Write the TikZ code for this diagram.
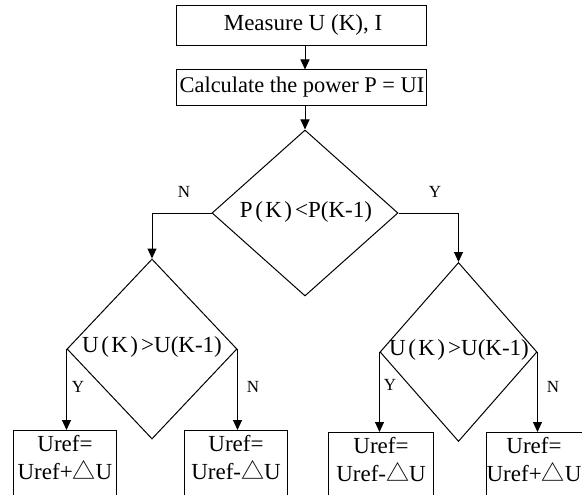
\documentclass[tikz,border=0pt]{standalone}
\usepackage{fontspec}
\setmainfont{Liberation Serif}
\newfontfamily\cjkf{Noto Sans CJK SC}
\usetikzlibrary{shapes.geometric,arrows.meta}
\newcommand{\tri}{{\cjkf △}}
\newcommand{\lpf}{\kern0.12em(\kern0.1em}
\newcommand{\rpf}{\kern0.1em)\kern0.14em}
\begin{document}
\begin{tikzpicture}[x=1pt,y=-1pt,
  line width=1pt,
  txt/.style={font=\fontsize{23}{28}\selectfont, inner sep=0pt, align=center},
  lbl/.style={font=\fontsize{17}{20}\selectfont, inner sep=0pt},
  rbox/.style={draw, rectangle, inner sep=0pt},
  dia/.style={draw, diamond, inner sep=0pt},
  arr/.style={-{Triangle[length=10pt,width=9pt]}}
]
\useasboundingbox (0,0) rectangle (582,495);
\clip (0,0) rectangle (582,495);
% top boxes
\node[rbox, minimum width=250pt, minimum height=40pt] (b1) at (301,26) {};
\node[txt] (t1) at (303,25) {Measure U (K), I};
\node[rbox, minimum width=250pt, minimum height=36pt] (b2) at (301,88) {};
\node[txt, font=\fontsize{22.4}{28}\selectfont] (t2) at (302,87) {Calculate the power P = UI};
% diamonds
\node[dia, minimum width=186pt, minimum height=166pt] (d1) at (305,213) {};
\node[txt] (dt1) at (306,212) {P\lpf K\rpf <P(K-1)};
\node[dia, minimum width=170pt, minimum height=180pt] (d2) at (152,349) {};
\node[txt] (dt2) at (152,347) {U\lpf K\rpf >U(K-1)};
\node[dia, minimum width=157pt, minimum height=179pt] (d3) at (458.5,352) {};
\node[txt] (dt3) at (459,350) {U\lpf K\rpf >U(K-1)};
% bottom boxes
\node[rbox, anchor=north, minimum width=103pt, minimum height=90pt] (bl1) at (64.5,430) {};
\node[txt, anchor=north] (tl1) at (65,435) {Uref=\\Uref+\tri U};
\node[rbox, anchor=north, minimum width=103pt, minimum height=90pt] (bl2) at (235.5,430) {};
\node[txt, anchor=north] (tl2) at (236,435) {Uref=\\Uref-\tri U};
\node[rbox, anchor=north, minimum width=105pt, minimum height=90pt] (br1) at (380.5,432) {};
\node[txt, anchor=north] (tr1) at (381,437) {Uref=\\Uref-\tri U};
\node[rbox, anchor=north, minimum width=105pt, minimum height=90pt] (br2) at (539,432) {};
\node[txt, anchor=north] (tr2) at (534,437) {Uref=\\Uref+\tri U};
% connectors
\coordinate (c1) at (305,46);
\draw[arr] (b1.south -| c1) -- (b2.north -| c1);
\draw[arr] (b2.south -| d1.north) -- (d1.north);
\draw[arr] (d1.west) -| (d2.north);
\draw[arr] (d1.east) -| (d3.north);
\draw[arr] (d2.west) -- (d2.west |- bl1.north);
\draw[arr] (d2.east) -- (d2.east |- bl2.north);
\draw[arr] (d3.west) -- (d3.west |- br1.north);
\draw[arr] (d3.east) -- (d3.east |- br2.north);
% labels
\node[lbl] (n1) at (184,192) {N};
\node[lbl] (y1) at (435,192) {Y};
\node[lbl] (y2) at (78,387) {Y};
\node[lbl] (n2) at (253,387) {N};
\node[lbl] (y3) at (390,385) {Y};
\node[lbl] (n3) at (553,387) {N};
\end{tikzpicture}
\end{document}
